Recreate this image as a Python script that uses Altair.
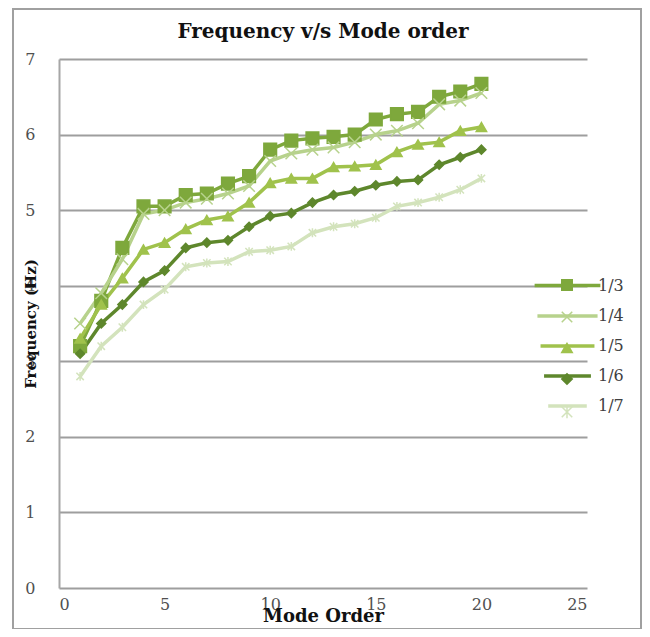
import altair as alt
import pandas as pd

modes = list(range(1, 21))
series = ["1/3", "1/4", "1/5", "1/6", "1/7"]
f_13 = [3.2, 3.8, 4.5, 5.05, 5.05, 5.2, 5.22, 5.35, 5.45, 5.8, 5.92, 5.95, 5.97, 6.0, 6.2, 6.27, 6.3, 6.5, 6.57, 6.67]
f_14 = [3.5, 3.9, 4.35, 4.95, 5.0, 5.1, 5.15, 5.22, 5.32, 5.65, 5.75, 5.8, 5.83, 5.9, 6.0, 6.05, 6.15, 6.4, 6.45, 6.55]
f_15 = [3.3, 3.75, 4.1, 4.48, 4.57, 4.75, 4.87, 4.92, 5.1, 5.36, 5.42, 5.42, 5.57, 5.58, 5.6, 5.77, 5.87, 5.9, 6.05, 6.1]
f_16 = [3.1, 3.5, 3.75, 4.05, 4.2, 4.5, 4.57, 4.6, 4.78, 4.92, 4.96, 5.1, 5.2, 5.25, 5.33, 5.38, 5.4, 5.6, 5.7, 5.8]
f_17 = [2.8, 3.2, 3.45, 3.75, 3.95, 4.25, 4.3, 4.32, 4.45, 4.47, 4.52, 4.7, 4.78, 4.82, 4.9, 5.05, 5.1, 5.17, 5.27, 5.42]

colors = ["#7EA83C", "#B7D28C", "#A0C24C", "#5E872C", "#D3E3BC"]
shapes = ["square", "M-1,-1L1,1M-1,1L1,-1", "triangle-up", "diamond",
          "M-1,-1L1,1M-1,1L1,-1M0,-1.2L0,1.2"]
sizes = [160, 55, 120, 85, 60]

rows = []
for name, vals in zip(series, [f_13, f_14, f_15, f_16, f_17]):
    for m, v in zip(modes, vals):
        rows.append({"mode": m, "freq": v, "series": name, "series_m": name})
df = pd.DataFrame(rows)

FONT = "DejaVu Serif"

x = alt.X("mode:Q", scale=alt.Scale(domain=[0, 25], nice=False),
          axis=alt.Axis(values=[0, 5, 10, 15, 20, 25], title="Mode Order", grid=False,
                        ticks=False, domain=False, labelFont=FONT, labelFontSize=16,
                        labelColor="#505050", labelPadding=8, titleFont=FONT,
                        titleFontSize=18, titleFontWeight="bold", titleColor="#111111",
                        titlePadding=-5))
y = alt.Y("freq:Q", scale=alt.Scale(domain=[0, 7], nice=False),
          axis=alt.Axis(values=list(range(8)), title="Frequency (Hz)", grid=True,
                        gridColor="#9E9E9E", gridWidth=2, ticks=False, domain=True,
                        domainColor="#A6A6A6", domainWidth=2, labelFont=FONT,
                        labelFontSize=16, labelColor="#505050", labelPadding=24,
                        titleFont=FONT, titleFontSize=15, titleFontWeight="bold",
                        titleColor="#111111", titlePadding=-14))

line_legend = alt.Legend(title=None, orient="none", legendX=500, legendY=218,
                         symbolType="M-5.2,0H5.2", symbolSize=100,
                         symbolStrokeWidth=3.5, labelFont=FONT,
                         labelFontSize=16, labelColor="#404040", labelOffset=22)
pt_legend = alt.Legend(title=None, orient="none", legendX=500, legendY=218,
                       symbolSize=110, labelFont=FONT, labelFontSize=16,
                       labelExpr="' '", labelOffset=22, symbolStrokeWidth=1.5,
                       symbolOpacity=1)

lines = alt.Chart(df).mark_line(strokeWidth=3.5).encode(
    x=x, y=y,
    color=alt.Color("series:N", scale=alt.Scale(domain=series, range=colors),
                    legend=line_legend),
    order=alt.Order("mode:Q"),
)

points = alt.Chart(df).mark_point(filled=True, opacity=1, strokeWidth=1.5).encode(
    x=x, y=y,
    fill=alt.Fill("series_m:N", scale=alt.Scale(range=colors), legend=pt_legend),
    stroke=alt.Stroke("series_m:N", scale=alt.Scale(range=colors), legend=pt_legend),
    shape=alt.Shape("series_m:N", scale=alt.Scale(range=shapes), legend=pt_legend),
    size=alt.Size("series:N", scale=alt.Scale(domain=series, range=sizes), legend=None),
)

frame = alt.Chart(pd.DataFrame({"k": [0]})).mark_rect(
    fill=None, stroke="#A0A0A0", strokeWidth=2
).encode(x=alt.value(-46), x2=alt.value(582), y=alt.value(-50), y2=alt.value(570))

chart = alt.layer(frame, lines, points).properties(
    width=528, height=529,
    title=alt.TitleParams("Frequency v/s Mode order", font=FONT, fontSize=20,
                          fontWeight="bold", color="#111111", anchor="middle",
                          frame="group", offset=-34),
    autosize=alt.AutoSizeParams(type="none"),
    padding={"left": 51, "top": 51, "right": 55, "bottom": 41},
).configure(background="white").configure_view(stroke=None).configure_legend(rowPadding=14)

chart.save("out.html", embed_options={"renderer": "svg", "actions": False})
